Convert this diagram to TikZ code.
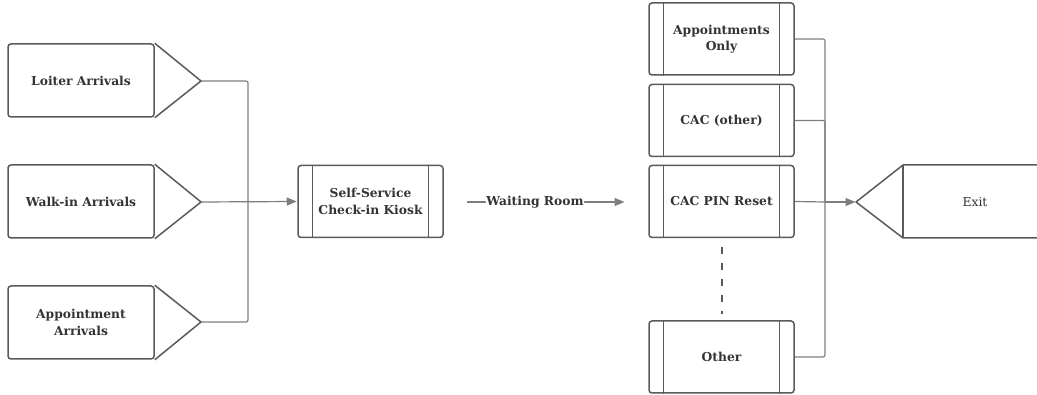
\documentclass[tikz,border=0pt]{standalone}
\usepackage{fontspec}
\setmainfont{DejaVu Serif}
\usetikzlibrary{arrows.meta}
\definecolor{shapeline}{HTML}{5A5A5A}
\definecolor{connline}{HTML}{7E7E7E}
\definecolor{txt}{HTML}{333333}
\tikzset{
  lbl/.style={font=\bfseries\fontsize{12.3}{16.5}\selectfont, text=txt},
  box/.style={draw=shapeline, line width=1.5pt, rounded corners=3pt, minimum width=146pt, minimum height=73pt, inner sep=0pt, lbl, align=center},
  proc/.style={box, minimum width=145pt, minimum height=72pt},
  inner/.style={draw=shapeline, line width=1.2pt},
  tri/.style={draw=shapeline, line width=1.5pt, line join=round},
  conn/.style={draw=connline, line width=1.2pt, rounded corners=2pt},
  arr/.style={conn, -{Triangle[length=10pt,width=8pt]}, shorten >=0.5pt},
  dotline/.style={draw=shapeline, line width=2.2pt, dash pattern=on 7pt off 9pt}
}
\begin{document}
\begin{tikzpicture}[x=1pt,y=-1pt]
\useasboundingbox (0,0) rectangle (1037,395);
% left arrival boxes
\node[box] (loiter) at (81,80.5) {Loiter Arrivals};
\node[box] (walkin) at (81,201.5) {Walk-in Arrivals};
\node[box] (appt) at (81,322.5) {Appointment\\Arrivals};
\foreach \n/\y in {loiter/81,walkin/202,appt/322}{
  \coordinate (\n tip) at (201,\y);
  \draw[tri] (\n.north east) -- (\n tip) -- (\n.south east);
}
% kiosk
\node[proc] (kiosk) at (370.5,201.5) {Self-Service\\Check-in Kiosk};
\draw[inner] ([xshift=15pt]kiosk.north west) -- ([xshift=15pt]kiosk.south west);
\draw[inner] ([xshift=-15pt]kiosk.north east) -- ([xshift=-15pt]kiosk.south east);
% right boxes
\node[proc] (apponly) at (721.5,39) {Appointments\\Only};
\node[proc] (cacother) at (721.5,120.5) {CAC (other)};
\node[proc] (cacpin) at (721.5,201.5) {CAC PIN Reset};
\node[proc] (other) at (721.5,357) {Other};
\foreach \n in {apponly,cacother,cacpin,other}{
  \draw[inner] ([xshift=15pt]\n.north west) -- ([xshift=15pt]\n.south west);
  \draw[inner] ([xshift=-15pt]\n.north east) -- ([xshift=-15pt]\n.south east);
}
\coordinate (dtop) at (722,247);
\coordinate (dbot) at (722,314);
\draw[dotline] (dtop) -- (dbot);
% exit
\coordinate (exittip) at (856,202);
\coordinate (exitnw) at (903,165);
\coordinate (exitsw) at (903,238);
\coordinate (exitne) at (1037,165);
\coordinate (exitse) at (1037,238);
\draw[tri] (exitne) -- (exitnw) -- (exittip) -- (exitsw) -- (exitse);
\draw[tri] (exitnw) -- (exitsw);
\node[font=\fontsize{12.3}{16.5}\selectfont, text=txt] (exit) at (975,202) {Exit};
% connectors left
\coordinate (jl) at (248,202);
\draw[conn] (loitertip) -- (248,81) -- (jl);
\draw[conn] (appttip) -- (248,322) -- (jl);
\draw[arr] (walkintip) -- (kiosk.west);
% waiting room
\coordinate (wstart) at (467,202);
\coordinate (wend) at (625,202);
\draw[arr] (wstart) -- node[pos=0.43, fill=white, inner sep=0.5pt, lbl] (wlabel) {Waiting Room} (wend);
% connectors right
\coordinate (jr) at (825,202);
\draw[conn] (apponly.east) -- (825,39) -- (jr);
\draw[conn] (cacother.east) -- (825,120.5) -- (jr);
\draw[conn] (other.east) -- (825,357) -- (jr);
\draw[conn] (cacpin.east) -- (jr);
\draw[arr] (jr) -- (exittip);
\end{tikzpicture}
\end{document}
